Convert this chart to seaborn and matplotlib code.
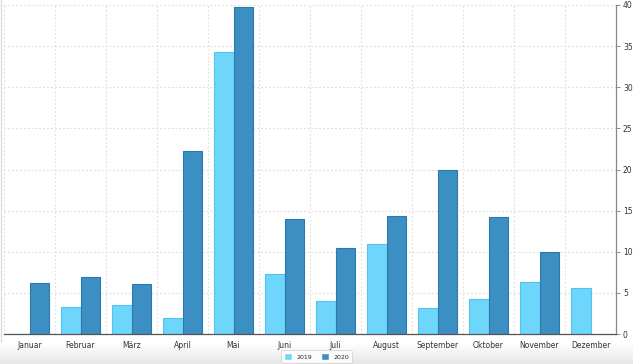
import numpy as np
import pandas as pd
import matplotlib
matplotlib.use("Agg")
import matplotlib.pyplot as plt
import seaborn as sns

months = ["Januar", "Februar", "März", "April", "Mai", "Juni", "Juli",
          "August", "September", "Oktober", "November", "Dezember"]
values_2019 = [0, 3.3, 3.5, 1.95, 34.3, 7.3, 4.0, 11.0, 3.2, 4.2, 6.3, 5.6]
values_2020 = [6.2, 6.9, 6.1, 22.3, 39.8, 14.0, 10.5, 14.4, 19.9, 14.2, 10.0, np.nan]
years = ["2019", "2020"]
yticks = [0, 5, 10, 15, 20, 25, 30, 35, 40]

df = pd.DataFrame({
    "month": months * 2,
    "year": [years[0]] * 12 + [years[1]] * 12,
    "value": values_2019 + values_2020,
})

sns.set_theme(style="white")
plt.rcParams["font.family"] = ["DejaVu Sans"]

fig = plt.figure(figsize=(6.33, 3.64), dpi=100)

# grey gradient strip at the bottom
bg = fig.add_axes([0, 0, 1, 0.055])
grad = np.linspace(0, 1, 50).reshape(-1, 1)
bg.imshow(grad, aspect="auto", cmap=matplotlib.colors.LinearSegmentedColormap.from_list(
    "g", ["#e6e6e6", "#ffffff"]), origin="lower", extent=[0, 1, 0, 1])
bg.axis("off")

ax = fig.add_axes([4 / 633, 1 - 334 / 364, 612 / 633, 329 / 364])

palette = {"2019": "#6fd6fb", "2020": "#3c8fc3"}
sns.barplot(data=df, x="month", y="value", hue="year", palette=palette,
            width=0.75, saturation=1, ax=ax, legend=True)

edges = {"2019": "#52c3ee", "2020": "#2c7aab"}
for cont, yr in zip(ax.containers, years):
    for bar in cont:
        bar.set_edgecolor(edges[yr])
        bar.set_linewidth(0.8)

ax.set_xlim(-0.5, 11.5)
ax.set_ylim(0, 40)
ax.set_yticks(yticks)
ax.yaxis.tick_right()
ax.set_xlabel("")
ax.set_ylabel("")

# dotted grid at category boundaries and y ticks
for x in np.arange(-0.5, 12, 1):
    ax.axvline(x, color="#dddddd", lw=0.8, ls=(0, (1.5, 2)), zorder=0)
for y in yticks[1:]:
    ax.axhline(y, color="#dddddd", lw=0.8, ls=(0, (1.5, 2)), zorder=0)

ax.set_xticks(np.arange(-0.5, 12, 1), minor=False)
ax.set_xticklabels([])
ax.set_xticks(np.arange(12), minor=True)
ax.set_xticklabels(months, minor=True, fontsize=5.5, color="#333333")
ax.tick_params(axis="x", which="major", length=3, width=0.6, color="#555555", direction="out")
ax.tick_params(axis="x", which="minor", length=0, pad=5)
ax.tick_params(axis="y", length=3, width=0.6, color="#777777", labelsize=5.5,
               labelcolor="#333333", pad=2)

for side in ["top", "left"]:
    ax.spines[side].set_visible(False)
ax.spines["right"].set_color("#888888")
ax.spines["right"].set_linewidth(0.9)
ax.spines["bottom"].set_color("#555555")
ax.spines["bottom"].set_linewidth(0.9)

leg = ax.legend(loc="center", bbox_to_anchor=(0.5, 1 - 356.5 / 364),
                bbox_transform=fig.transFigure, ncol=2,
                fontsize=4.5, frameon=True, handlelength=1.4, handleheight=1.3,
                handletextpad=0.7, columnspacing=1.3, borderpad=0.35)
leg.get_frame().set_edgecolor("#cccccc")
leg.get_frame().set_linewidth(0.6)
leg.get_frame().set_boxstyle("round,pad=0.1,rounding_size=0.3")

fig.add_artist(plt.Line2D([0.001, 0.001], [0.06, 1], color="#dddddd", lw=1))

fig.savefig("out.png", dpi=100)
